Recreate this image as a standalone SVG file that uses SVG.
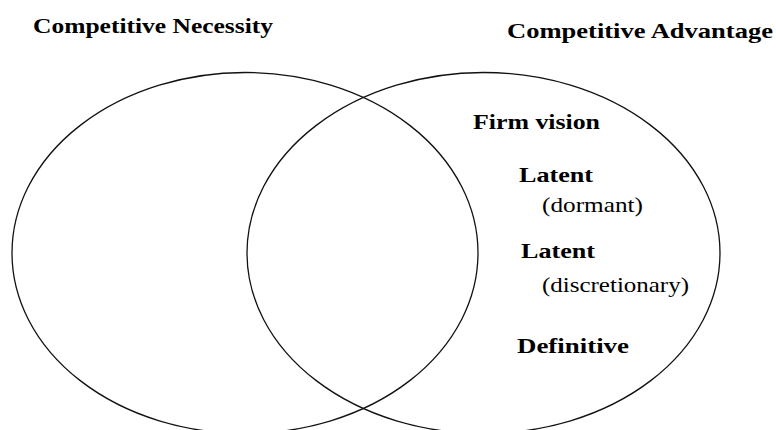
<svg xmlns="http://www.w3.org/2000/svg" width="776" height="430" viewBox="0 0 776 430">
<style>
.ring{fill:none;stroke:#111;stroke-width:1.3}
.t{font-family:'Liberation Serif','Times New Roman',Times,serif;fill:#000}
.b{font-weight:700;font-size:22px}
.n{font-weight:400;font-size:21px}
</style>
<rect width="776" height="430" fill="#fff"/>
<g id="necessity">
<ellipse class="ring" cx="245" cy="253" rx="233" ry="180.5"/>
<text class="t b" x="33" y="33" textLength="240" lengthAdjust="spacingAndGlyphs">Competitive Necessity</text>
</g>
<g id="advantage">
<ellipse class="ring" cx="483.5" cy="253" rx="236.5" ry="180.5"/>
<text class="t b" x="507" y="38" textLength="266" lengthAdjust="spacingAndGlyphs">Competitive Advantage</text>
</g>
<g id="labels">
<text class="t b" x="473" y="129" textLength="127" lengthAdjust="spacingAndGlyphs">Firm vision</text>
<text class="t b" x="519" y="182" textLength="74" lengthAdjust="spacingAndGlyphs">Latent</text>
<text class="t n" x="542" y="212" textLength="101" lengthAdjust="spacingAndGlyphs">(dormant)</text>
<text class="t b" x="521" y="258" textLength="74" lengthAdjust="spacingAndGlyphs">Latent</text>
<text class="t n" x="542" y="292" textLength="147" lengthAdjust="spacingAndGlyphs">(discretionary)</text>
<text class="t b" x="517" y="353" textLength="112" lengthAdjust="spacingAndGlyphs">Definitive</text>
</g>
<g id="connectors"></g>
</svg>
